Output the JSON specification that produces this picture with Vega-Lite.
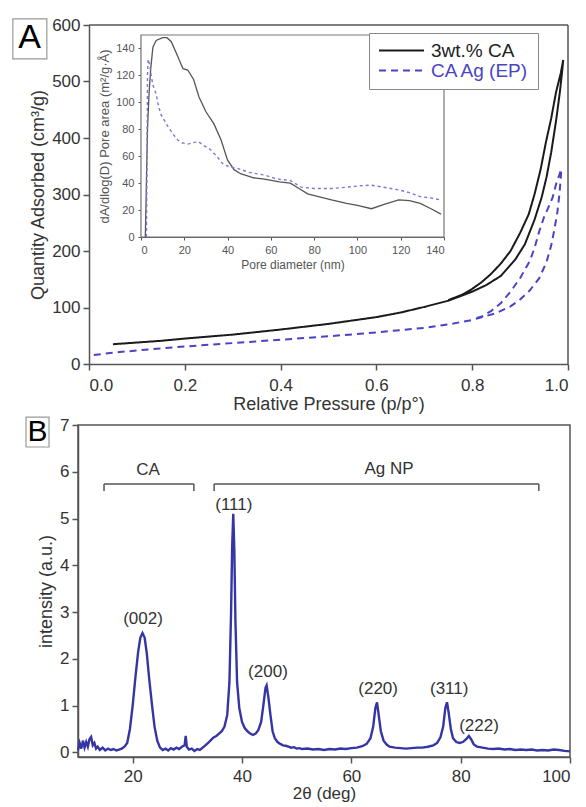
{
  "$schema": "https://vega.github.io/schema/vega-lite/v6.json",
  "padding": {"left": 12, "top": 16, "right": 0, "bottom": 0},
  "bounds": "flush",
  "spacing": 61,
  "config": {
    "font": "Liberation Sans",
    "view": {"stroke": "#555", "strokeWidth": 1.5},
    "axis": {"grid": false, "domainColor": "#555", "tickColor": "#555", "labelColor": "#333", "titleColor": "#333", "labelFontSize": 17, "titleFontSize": 18, "titleFontWeight": "normal", "tickSize": 6, "domainWidth": 1.5, "tickWidth": 1.5, "labelPadding": 3, "titlePadding": 4}
  },
  "vconcat": [
    {
      "width": 490,
      "height": 339,
      "view": {"stroke": null},
      "layer": [
        {
          "layer": [
            {
              "data": {"values": [
                {"series": "3wt.% CA", "k": 1, "p": 0.05, "q": 35}, {"series": "3wt.% CA", "k": 2, "p": 0.1, "q": 38}, {"series": "3wt.% CA", "k": 3, "p": 0.15, "q": 41}, {"series": "3wt.% CA", "k": 4, "p": 0.2, "q": 45}, {"series": "3wt.% CA", "k": 5, "p": 0.3, "q": 52}, {"series": "3wt.% CA", "k": 6, "p": 0.4, "q": 61}, {"series": "3wt.% CA", "k": 7, "p": 0.5, "q": 71}, {"series": "3wt.% CA", "k": 8, "p": 0.6, "q": 83}, {"series": "3wt.% CA", "k": 9, "p": 0.65, "q": 91}, {"series": "3wt.% CA", "k": 10, "p": 0.7, "q": 101}, {"series": "3wt.% CA", "k": 11, "p": 0.75, "q": 112}, {"series": "3wt.% CA", "k": 12, "p": 0.8, "q": 128}, {"series": "3wt.% CA", "k": 13, "p": 0.83, "q": 140}, {"series": "3wt.% CA", "k": 14, "p": 0.86, "q": 156}, {"series": "3wt.% CA", "k": 15, "p": 0.89, "q": 185}, {"series": "3wt.% CA", "k": 16, "p": 0.91, "q": 212}, {"series": "3wt.% CA", "k": 17, "p": 0.93, "q": 255}, {"series": "3wt.% CA", "k": 18, "p": 0.945, "q": 295}, {"series": "3wt.% CA", "k": 19, "p": 0.955, "q": 330}, {"series": "3wt.% CA", "k": 20, "p": 0.965, "q": 375}, {"series": "3wt.% CA", "k": 21, "p": 0.975, "q": 430}, {"series": "3wt.% CA", "k": 22, "p": 0.983, "q": 481}, {"series": "3wt.% CA", "k": 23, "p": 0.988, "q": 520}, {"series": "3wt.% CA", "k": 24, "p": 0.99, "q": 538}, {"series": "3wt.% CA", "k": 25, "p": 0.985, "q": 515}, {"series": "3wt.% CA", "k": 26, "p": 0.975, "q": 481}, {"series": "3wt.% CA", "k": 27, "p": 0.965, "q": 435}, {"series": "3wt.% CA", "k": 28, "p": 0.954, "q": 393}, {"series": "3wt.% CA", "k": 29, "p": 0.943, "q": 345}, {"series": "3wt.% CA", "k": 30, "p": 0.93, "q": 300}, {"series": "3wt.% CA", "k": 31, "p": 0.918, "q": 265}, {"series": "3wt.% CA", "k": 32, "p": 0.9, "q": 232}, {"series": "3wt.% CA", "k": 33, "p": 0.88, "q": 200}, {"series": "3wt.% CA", "k": 34, "p": 0.86, "q": 178}, {"series": "3wt.% CA", "k": 35, "p": 0.84, "q": 160}, {"series": "3wt.% CA", "k": 36, "p": 0.82, "q": 145}, {"series": "3wt.% CA", "k": 37, "p": 0.8, "q": 133}, {"series": "3wt.% CA", "k": 38, "p": 0.78, "q": 123}, {"series": "3wt.% CA", "k": 39, "p": 0.75, "q": 113},
                {"series": "CA Ag (EP)", "k": 1, "p": 0.01, "q": 16}, {"series": "CA Ag (EP)", "k": 2, "p": 0.05, "q": 20}, {"series": "CA Ag (EP)", "k": 3, "p": 0.1, "q": 24}, {"series": "CA Ag (EP)", "k": 4, "p": 0.2, "q": 31}, {"series": "CA Ag (EP)", "k": 5, "p": 0.3, "q": 37}, {"series": "CA Ag (EP)", "k": 6, "p": 0.4, "q": 43}, {"series": "CA Ag (EP)", "k": 7, "p": 0.5, "q": 49}, {"series": "CA Ag (EP)", "k": 8, "p": 0.6, "q": 56}, {"series": "CA Ag (EP)", "k": 9, "p": 0.7, "q": 64}, {"series": "CA Ag (EP)", "k": 10, "p": 0.75, "q": 70}, {"series": "CA Ag (EP)", "k": 11, "p": 0.8, "q": 78}, {"series": "CA Ag (EP)", "k": 12, "p": 0.85, "q": 90}, {"series": "CA Ag (EP)", "k": 13, "p": 0.88, "q": 102}, {"series": "CA Ag (EP)", "k": 14, "p": 0.9, "q": 114}, {"series": "CA Ag (EP)", "k": 15, "p": 0.92, "q": 130}, {"series": "CA Ag (EP)", "k": 16, "p": 0.94, "q": 152}, {"series": "CA Ag (EP)", "k": 17, "p": 0.955, "q": 180}, {"series": "CA Ag (EP)", "k": 18, "p": 0.965, "q": 210}, {"series": "CA Ag (EP)", "k": 19, "p": 0.972, "q": 240}, {"series": "CA Ag (EP)", "k": 20, "p": 0.978, "q": 270}, {"series": "CA Ag (EP)", "k": 21, "p": 0.982, "q": 300}, {"series": "CA Ag (EP)", "k": 22, "p": 0.985, "q": 330}, {"series": "CA Ag (EP)", "k": 23, "p": 0.986, "q": 345}, {"series": "CA Ag (EP)", "k": 24, "p": 0.982, "q": 335}, {"series": "CA Ag (EP)", "k": 25, "p": 0.975, "q": 318}, {"series": "CA Ag (EP)", "k": 26, "p": 0.968, "q": 295}, {"series": "CA Ag (EP)", "k": 27, "p": 0.958, "q": 275}, {"series": "CA Ag (EP)", "k": 28, "p": 0.95, "q": 260}, {"series": "CA Ag (EP)", "k": 29, "p": 0.94, "q": 235}, {"series": "CA Ag (EP)", "k": 30, "p": 0.93, "q": 205}, {"series": "CA Ag (EP)", "k": 31, "p": 0.92, "q": 182}, {"series": "CA Ag (EP)", "k": 32, "p": 0.9, "q": 152}, {"series": "CA Ag (EP)", "k": 33, "p": 0.88, "q": 128}, {"series": "CA Ag (EP)", "k": 34, "p": 0.86, "q": 108}, {"series": "CA Ag (EP)", "k": 35, "p": 0.84, "q": 94}, {"series": "CA Ag (EP)", "k": 36, "p": 0.82, "q": 84}, {"series": "CA Ag (EP)", "k": 37, "p": 0.8, "q": 79}
              ]},
              "mark": {"type": "line", "strokeWidth": 2},
              "encoding": {
                "x": {"field": "p", "type": "quantitative", "scale": {"domain": [0, 1], "range": [11, 490], "nice": false, "zero": false}, "axis": {"title": "Relative Pressure (p/p°)", "values": [0, 0.2, 0.4, 0.6, 0.8, 1.0], "format": ".1f", "labelPadding": 7, "titlePadding": 2}},
                "y": {"field": "q", "type": "quantitative", "scale": {"domain": [0, 600], "nice": false, "zero": false}, "axis": {"title": "Quantity Adsorbed (cm³/g)", "values": [0, 100, 200, 300, 400, 500, 600], "offset": -11}},
                "order": {"field": "k", "type": "quantitative"},
                "color": {"field": "series", "type": "nominal", "scale": {"domain": ["3wt.% CA", "CA Ag (EP)"], "range": ["#1a1a1a", "#4a44c4"]},
                  "legend": {"title": null, "orient": "none", "legendX": 291, "legendY": 8, "symbolType": "M-1,0H5", "symbolSize": 225, "symbolStrokeWidth": 2, "labelOffset": 35, "labelFontSize": 19, "labelLimit": 200, "strokeColor": "#888", "fillColor": "white", "padding": 8, "rowPadding": 0,
                    "encode": {"labels": {"update": {"fill": {"signal": "datum.label === 'CA Ag (EP)' ? '#4a44c4' : '#222'"}}}}}},
                "strokeDash": {"field": "series", "type": "nominal", "scale": {"domain": ["3wt.% CA", "CA Ag (EP)"], "range": [[1, 0], [7, 5]]},
                  "legend": {"title": null, "orient": "none", "legendX": 291, "legendY": 8, "symbolType": "M-1,0H5", "symbolSize": 225, "symbolStrokeWidth": 2, "labelOffset": 35, "labelFontSize": 19, "labelLimit": 200, "strokeColor": "#888", "fillColor": "white", "padding": 8, "rowPadding": 0}}
              }
            },
            {
              "data": {"values": [{"p": 0, "p2": 1, "q": 600, "q2": 600}, {"p": 1, "p2": 1, "q": 0, "q2": 600}]},
              "mark": {"type": "rule", "color": "#555", "strokeWidth": 1.5},
              "encoding": {
                "x": {"field": "p", "type": "quantitative", "scale": {"domain": [0, 1], "range": [11, 490], "nice": false, "zero": false}},
                "x2": {"field": "p2"},
                "y": {"field": "q", "type": "quantitative", "scale": {"domain": [0, 600], "nice": false, "zero": false}},
                "y2": {"field": "q2"}
              }
            },
            {
              "data": {"values": [{"p": -0.159, "p2": -0.088, "q": 540, "q2": 611}]},
              "mark": {"type": "rect", "fill": "white", "stroke": "#999", "strokeWidth": 1.2},
              "encoding": {
                "x": {"field": "p", "type": "quantitative", "scale": {"domain": [0, 1], "range": [11, 490], "nice": false, "zero": false}},
                "x2": {"field": "p2"},
                "y": {"field": "q", "type": "quantitative", "scale": {"domain": [0, 600], "nice": false, "zero": false}},
                "y2": {"field": "q2"}
              }
            },
            {
              "data": {"values": [{"p": -0.124, "q": 577, "lab": "A"}]},
              "mark": {"type": "text", "fontSize": 34, "color": "black", "align": "center", "baseline": "middle"},
              "encoding": {
                "x": {"field": "p", "type": "quantitative", "scale": {"domain": [0, 1], "range": [11, 490], "nice": false, "zero": false}},
                "y": {"field": "q", "type": "quantitative", "scale": {"domain": [0, 600], "nice": false, "zero": false}},
                "text": {"field": "lab"}
              }
            }
          ]
        },
        {
          "layer": [
            {
              "data": {"values": [{"d": 0, "d2": 140, "a": 0, "a2": 150}]},
              "mark": {"type": "rect", "fill": "white", "stroke": "#777", "strokeWidth": 1.2},
              "encoding": {
                "x": {"field": "d", "type": "quantitative", "scale": {"domain": [0, 140], "range": [63, 366], "nice": false, "zero": false},
                  "axis": {"orient": "bottom", "offset": -127, "title": "Pore diameter (nm)", "values": [0, 20, 40, 60, 80, 100, 120, 140], "labelFontSize": 11, "titleFontSize": 12, "tickSize": 3, "tickWidth": 1, "domainWidth": 1.2, "labelColor": "#555", "titleColor": "#555", "labelPadding": 4, "titlePadding": 4}},
                "x2": {"field": "d2"},
                "y": {"field": "a", "type": "quantitative", "scale": {"domain": [0, 150], "range": [212, 10], "nice": false, "zero": false},
                  "axis": {"orient": "left", "offset": -63, "title": "dA/dlog(D) Pore area (m²/g·Å)", "values": [0, 20, 40, 60, 80, 100, 120, 140], "labelFontSize": 11, "titleFontSize": 13, "tickSize": 3, "tickWidth": 1, "domainWidth": 1.2, "labelColor": "#555", "titleColor": "#555", "labelPadding": 4, "titlePadding": 4}},
                "y2": {"field": "a2"}
              }
            },
            {
              "data": {"values": [
                {"d": 2, "a": 0}, {"d": 2.5, "a": 40}, {"d": 3, "a": 80}, {"d": 3.7, "a": 106}, {"d": 4.5, "a": 125}, {"d": 5.5, "a": 141}, {"d": 7, "a": 146}, {"d": 10, "a": 148}, {"d": 12, "a": 148}, {"d": 14, "a": 145}, {"d": 17, "a": 134}, {"d": 19.4, "a": 125}, {"d": 21.6, "a": 124}, {"d": 24.3, "a": 117}, {"d": 26.8, "a": 104}, {"d": 30, "a": 93}, {"d": 33.7, "a": 84}, {"d": 37, "a": 72}, {"d": 40, "a": 57}, {"d": 43, "a": 50}, {"d": 46, "a": 47}, {"d": 52, "a": 44}, {"d": 57, "a": 43}, {"d": 64, "a": 41}, {"d": 69, "a": 40}, {"d": 73, "a": 36}, {"d": 77, "a": 32}, {"d": 82, "a": 30}, {"d": 88, "a": 27.5}, {"d": 95, "a": 25}, {"d": 100, "a": 23.5}, {"d": 106.5, "a": 21}, {"d": 112, "a": 24}, {"d": 119, "a": 27.5}, {"d": 124, "a": 27}, {"d": 129, "a": 25}, {"d": 134, "a": 21}, {"d": 138.6, "a": 17}
              ]},
              "mark": {"type": "line", "color": "#555", "strokeWidth": 1.3},
              "encoding": {
                "x": {"field": "d", "type": "quantitative", "scale": {"domain": [0, 140], "range": [63, 366], "nice": false, "zero": false}},
                "y": {"field": "a", "type": "quantitative", "scale": {"domain": [0, 150], "range": [212, 10], "nice": false, "zero": false}}
              }
            },
            {
              "data": {"values": [
                {"d": 2.5, "a": 0}, {"d": 2.7, "a": 40}, {"d": 2.9, "a": 90}, {"d": 3, "a": 120}, {"d": 3.3, "a": 132}, {"d": 4, "a": 128}, {"d": 4.6, "a": 121}, {"d": 5.5, "a": 113}, {"d": 7, "a": 106}, {"d": 8, "a": 98}, {"d": 9.2, "a": 91}, {"d": 11, "a": 86}, {"d": 12.5, "a": 82}, {"d": 15, "a": 76}, {"d": 17, "a": 72}, {"d": 19, "a": 70}, {"d": 21.7, "a": 69}, {"d": 24, "a": 70}, {"d": 26.3, "a": 71}, {"d": 29, "a": 68}, {"d": 32, "a": 65}, {"d": 35, "a": 60}, {"d": 38, "a": 54}, {"d": 41, "a": 52}, {"d": 44.5, "a": 51}, {"d": 50, "a": 48}, {"d": 57, "a": 46}, {"d": 63, "a": 43}, {"d": 69, "a": 42}, {"d": 74, "a": 37}, {"d": 80, "a": 36}, {"d": 88, "a": 36}, {"d": 95, "a": 37}, {"d": 101, "a": 38}, {"d": 106.5, "a": 38.5}, {"d": 112, "a": 37}, {"d": 119, "a": 35}, {"d": 124, "a": 33}, {"d": 129, "a": 30}, {"d": 134, "a": 29}, {"d": 138.6, "a": 27.5}
              ]},
              "mark": {"type": "line", "color": "#7a78d8", "strokeWidth": 1.4, "strokeDash": [3, 3]},
              "encoding": {
                "x": {"field": "d", "type": "quantitative", "scale": {"domain": [0, 140], "range": [63, 366], "nice": false, "zero": false}},
                "y": {"field": "a", "type": "quantitative", "scale": {"domain": [0, 150], "range": [212, 10], "nice": false, "zero": false}}
              }
            }
          ]
        }
      ],
      "resolve": {"scale": {"x": "independent", "y": "independent"}, "axis": {"x": "independent", "y": "independent"}}
    },
    {
      "width": 492,
      "height": 332,
      "layer": [
        {
          "data": {"values": [
            {"t": 10.0, "i": 0.05}, {"t": 10.3, "i": 0.2}, {"t": 10.6, "i": 0.08}, {"t": 10.9, "i": 0.25}, {"t": 11.2, "i": 0.1}, {"t": 11.5, "i": 0.22}, {"t": 11.8, "i": 0.12}, {"t": 12.1, "i": 0.28}, {"t": 12.4, "i": 0.33}, {"t": 12.7, "i": 0.15}, {"t": 13.0, "i": 0.2}, {"t": 13.3, "i": 0.08}, {"t": 13.6, "i": 0.12}, {"t": 14.0, "i": 0.05}, {"t": 14.5, "i": 0.1}, {"t": 15.0, "i": 0.04}, {"t": 15.5, "i": 0.08}, {"t": 16.0, "i": 0.05}, {"t": 16.5, "i": 0.07}, {"t": 17.0, "i": 0.04}, {"t": 17.5, "i": 0.06}, {"t": 18.0, "i": 0.08}, {"t": 18.5, "i": 0.12}, {"t": 19.0, "i": 0.2}, {"t": 19.5, "i": 0.5}, {"t": 20.0, "i": 1.0}, {"t": 20.5, "i": 1.6}, {"t": 21.0, "i": 2.15}, {"t": 21.4, "i": 2.45}, {"t": 21.8, "i": 2.55}, {"t": 22.2, "i": 2.45}, {"t": 22.6, "i": 2.1}, {"t": 23.0, "i": 1.6}, {"t": 23.5, "i": 1.05}, {"t": 24.0, "i": 0.55}, {"t": 24.5, "i": 0.25}, {"t": 25.0, "i": 0.1}, {"t": 25.5, "i": 0.05}, {"t": 26.0, "i": 0.08}, {"t": 26.5, "i": 0.04}, {"t": 27.0, "i": 0.09}, {"t": 27.5, "i": 0.06}, {"t": 28.0, "i": 0.1}, {"t": 28.5, "i": 0.07}, {"t": 29.0, "i": 0.12}, {"t": 29.5, "i": 0.15}, {"t": 29.7, "i": 0.35}, {"t": 29.9, "i": 0.12}, {"t": 30.3, "i": 0.06}, {"t": 30.8, "i": 0.08}, {"t": 31.3, "i": 0.03}, {"t": 31.8, "i": 0.07}, {"t": 32.3, "i": 0.05}, {"t": 32.8, "i": 0.1}, {"t": 33.3, "i": 0.15}, {"t": 33.8, "i": 0.2}, {"t": 34.3, "i": 0.26}, {"t": 34.8, "i": 0.32}, {"t": 35.3, "i": 0.35}, {"t": 35.8, "i": 0.4}, {"t": 36.3, "i": 0.45}, {"t": 36.8, "i": 0.55}, {"t": 37.3, "i": 0.8}, {"t": 37.7, "i": 1.5}, {"t": 38.0, "i": 3.0}, {"t": 38.2, "i": 4.4}, {"t": 38.4, "i": 5.1}, {"t": 38.6, "i": 4.3}, {"t": 38.8, "i": 2.8}, {"t": 39.1, "i": 1.5}, {"t": 39.5, "i": 0.95}, {"t": 40.0, "i": 0.65}, {"t": 40.5, "i": 0.52}, {"t": 41.0, "i": 0.45}, {"t": 41.5, "i": 0.4}, {"t": 42.0, "i": 0.37}, {"t": 42.5, "i": 0.4}, {"t": 43.0, "i": 0.48}, {"t": 43.5, "i": 0.65}, {"t": 43.9, "i": 1.0}, {"t": 44.3, "i": 1.38}, {"t": 44.5, "i": 1.43}, {"t": 44.8, "i": 1.2}, {"t": 45.2, "i": 0.8}, {"t": 45.6, "i": 0.45}, {"t": 46.0, "i": 0.3}, {"t": 46.5, "i": 0.22}, {"t": 47.0, "i": 0.18}, {"t": 47.5, "i": 0.15}, {"t": 48.0, "i": 0.14}, {"t": 48.5, "i": 0.12}, {"t": 49.0, "i": 0.1}, {"t": 49.5, "i": 0.11}, {"t": 50.0, "i": 0.08}, {"t": 50.5, "i": 0.09}, {"t": 51, "i": 0.07}, {"t": 52, "i": 0.08}, {"t": 53, "i": 0.06}, {"t": 54, "i": 0.07}, {"t": 55, "i": 0.05}, {"t": 56, "i": 0.07}, {"t": 57, "i": 0.06}, {"t": 58, "i": 0.08}, {"t": 59, "i": 0.07}, {"t": 60, "i": 0.09}, {"t": 61, "i": 0.1}, {"t": 62, "i": 0.13}, {"t": 62.8, "i": 0.18}, {"t": 63.5, "i": 0.3}, {"t": 64.0, "i": 0.55}, {"t": 64.4, "i": 0.95}, {"t": 64.7, "i": 1.07}, {"t": 65.0, "i": 0.8}, {"t": 65.4, "i": 0.45}, {"t": 65.9, "i": 0.25}, {"t": 66.5, "i": 0.16}, {"t": 67.0, "i": 0.12}, {"t": 68, "i": 0.1}, {"t": 69, "i": 0.09}, {"t": 70, "i": 0.08}, {"t": 71, "i": 0.09}, {"t": 72, "i": 0.1}, {"t": 73, "i": 0.1}, {"t": 74, "i": 0.12}, {"t": 75, "i": 0.15}, {"t": 75.7, "i": 0.2}, {"t": 76.3, "i": 0.32}, {"t": 76.8, "i": 0.55}, {"t": 77.2, "i": 0.95}, {"t": 77.5, "i": 1.07}, {"t": 77.8, "i": 0.85}, {"t": 78.2, "i": 0.5}, {"t": 78.6, "i": 0.3}, {"t": 79.2, "i": 0.22}, {"t": 79.8, "i": 0.2}, {"t": 80.4, "i": 0.22}, {"t": 81.0, "i": 0.28}, {"t": 81.5, "i": 0.35}, {"t": 81.9, "i": 0.28}, {"t": 82.4, "i": 0.17}, {"t": 83.0, "i": 0.12}, {"t": 84, "i": 0.1}, {"t": 85, "i": 0.08}, {"t": 86, "i": 0.07}, {"t": 87, "i": 0.08}, {"t": 88, "i": 0.06}, {"t": 89, "i": 0.07}, {"t": 90, "i": 0.05}, {"t": 91, "i": 0.06}, {"t": 92, "i": 0.05}, {"t": 93, "i": 0.06}, {"t": 94, "i": 0.04}, {"t": 95, "i": 0.05}, {"t": 96, "i": 0.04}, {"t": 97, "i": 0.06}, {"t": 98, "i": 0.05}, {"t": 99, "i": 0.03}, {"t": 100, "i": 0.02}
          ]},
          "mark": {"type": "line", "color": "#3535a5", "strokeWidth": 2.4},
          "encoding": {
            "x": {"field": "t", "type": "quantitative", "scale": {"domain": [10, 100], "nice": false, "zero": false}, "axis": {"title": "2θ (deg)", "values": [20, 40, 60, 80, 100], "labelPadding": 5, "titlePadding": 1, "titleFontSize": 17}},
            "y": {"field": "i", "type": "quantitative", "scale": {"domain": [-0.1, 7], "nice": false, "zero": false}, "axis": {"title": "intensity (a.u.)", "values": [0, 1, 2, 3, 4, 5, 6, 7]}}
          }
        },
        {
          "data": {"values": [
            {"t": 14.76, "t2": 31.2, "i": 5.74, "i2": 5.74}, {"t": 14.76, "t2": 14.76, "i": 5.74, "i2": 5.59}, {"t": 31.2, "t2": 31.2, "i": 5.74, "i2": 5.59},
            {"t": 34.9, "t2": 94.3, "i": 5.74, "i2": 5.74}, {"t": 34.9, "t2": 34.9, "i": 5.74, "i2": 5.59}, {"t": 94.3, "t2": 94.3, "i": 5.74, "i2": 5.59}
          ]},
          "mark": {"type": "rule", "color": "#555", "strokeWidth": 1.5},
          "encoding": {
            "x": {"field": "t", "type": "quantitative", "scale": {"domain": [10, 100], "nice": false, "zero": false}},
            "x2": {"field": "t2"},
            "y": {"field": "i", "type": "quantitative", "scale": {"domain": [-0.1, 7], "nice": false, "zero": false}},
            "y2": {"field": "i2"}
          }
        },
        {
          "data": {"values": [
            {"t": 22.8, "i": 6.04, "lab": "CA"}, {"t": 66.9, "i": 6.06, "lab": "Ag NP"},
            {"t": 21.9, "i": 2.85, "lab": "(002)"}, {"t": 38.5, "i": 5.29, "lab": "(111)"}, {"t": 44.75, "i": 1.72, "lab": "(200)"},
            {"t": 64.9, "i": 1.35, "lab": "(220)"}, {"t": 77.9, "i": 1.35, "lab": "(311)"}, {"t": 83.35, "i": 0.56, "lab": "(222)"}
          ]},
          "mark": {"type": "text", "fontSize": 17, "color": "#333", "align": "center", "baseline": "middle"},
          "encoding": {
            "x": {"field": "t", "type": "quantitative", "scale": {"domain": [10, 100], "nice": false, "zero": false}},
            "y": {"field": "i", "type": "quantitative", "scale": {"domain": [-0.1, 7], "nice": false, "zero": false}},
            "text": {"field": "lab"}
          }
        },
        {
          "data": {"values": [{"t": 0.49, "t2": 4.7, "i": 6.53, "i2": 7.17}]},
          "mark": {"type": "rect", "fill": "white", "stroke": "#999", "strokeWidth": 1.2},
          "encoding": {
            "x": {"field": "t", "type": "quantitative", "scale": {"domain": [10, 100], "nice": false, "zero": false}},
            "x2": {"field": "t2"},
            "y": {"field": "i", "type": "quantitative", "scale": {"domain": [-0.1, 7], "nice": false, "zero": false}},
            "y2": {"field": "i2"}
          }
        },
        {
          "data": {"values": [{"t": 2.6, "i": 6.84, "lab": "B"}]},
          "mark": {"type": "text", "fontSize": 30, "color": "black", "align": "center", "baseline": "middle"},
          "encoding": {
            "x": {"field": "t", "type": "quantitative", "scale": {"domain": [10, 100], "nice": false, "zero": false}},
            "y": {"field": "i", "type": "quantitative", "scale": {"domain": [-0.1, 7], "nice": false, "zero": false}},
            "text": {"field": "lab"}
          }
        }
      ]
    }
  ]
}
